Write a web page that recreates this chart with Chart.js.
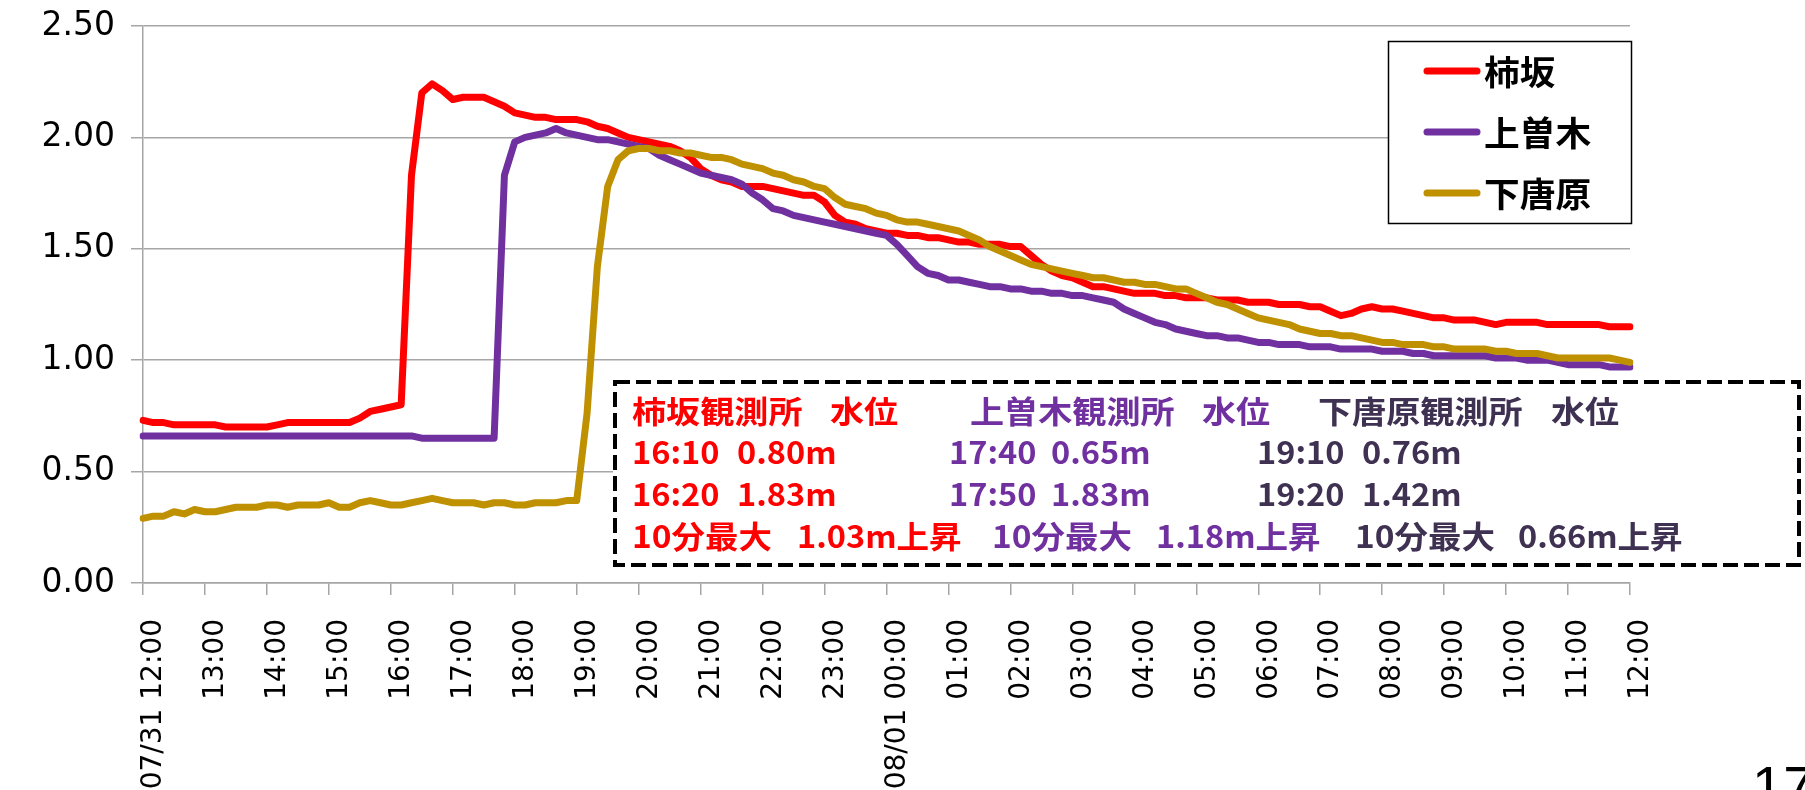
<!DOCTYPE html>
<html lang="ja">
<head>
<meta charset="utf-8">
<title>水位</title>
<script src="https://cdn.jsdelivr.net/npm/chart.js@4.4.1/dist/chart.umd.min.js"></script>
<style>
  html, body { margin: 0; padding: 0; background: #fff; }
  canvas { display: block; }
</style>
</head>
<body>
<canvas id="levelChart" width="1805" height="790"></canvas>
<script>
// water level every 10 min, 07/31 12:00 - 08/01 12:00 (m)
var kakisaka = [
  0.73, 0.72, 0.72, 0.71, 0.71, 0.71, 0.71, 0.71, 0.70, 0.70,
  0.70, 0.70, 0.70, 0.71, 0.72, 0.72, 0.72, 0.72, 0.72, 0.72,
  0.72, 0.74, 0.77, 0.78, 0.79, 0.80, 1.83, 2.20, 2.24, 2.21,
  2.17, 2.18, 2.18, 2.18, 2.16, 2.14, 2.11, 2.10, 2.09, 2.09,
  2.08, 2.08, 2.08, 2.07, 2.05, 2.04, 2.02, 2.00, 1.99, 1.98,
  1.97, 1.96, 1.94, 1.91, 1.86, 1.83, 1.81, 1.80, 1.78, 1.78,
  1.78, 1.77, 1.76, 1.75, 1.74, 1.74, 1.71, 1.65, 1.62, 1.61,
  1.59, 1.58, 1.57, 1.57, 1.56, 1.56, 1.55, 1.55, 1.54, 1.53,
  1.53, 1.52, 1.52, 1.52, 1.51, 1.51, 1.47, 1.43, 1.40, 1.38,
  1.37, 1.35, 1.33, 1.33, 1.32, 1.31, 1.30, 1.30, 1.30, 1.29,
  1.29, 1.28, 1.28, 1.28, 1.27, 1.27, 1.27, 1.26, 1.26, 1.26,
  1.25, 1.25, 1.25, 1.24, 1.24, 1.22, 1.20, 1.21, 1.23, 1.24,
  1.23, 1.23, 1.22, 1.21, 1.20, 1.19, 1.19, 1.18, 1.18, 1.18,
  1.17, 1.16, 1.17, 1.17, 1.17, 1.17, 1.16, 1.16, 1.16, 1.16,
  1.16, 1.16, 1.15, 1.15, 1.15
];
var kamisogi = [
  0.66, 0.66, 0.66, 0.66, 0.66, 0.66, 0.66, 0.66, 0.66, 0.66,
  0.66, 0.66, 0.66, 0.66, 0.66, 0.66, 0.66, 0.66, 0.66, 0.66,
  0.66, 0.66, 0.66, 0.66, 0.66, 0.66, 0.66, 0.65, 0.65, 0.65,
  0.65, 0.65, 0.65, 0.65, 0.65, 1.83, 1.98, 2.00, 2.01, 2.02,
  2.04, 2.02, 2.01, 2.00, 1.99, 1.99, 1.98, 1.97, 1.96, 1.95,
  1.92, 1.90, 1.88, 1.86, 1.84, 1.83, 1.82, 1.81, 1.79, 1.75,
  1.72, 1.68, 1.67, 1.65, 1.64, 1.63, 1.62, 1.61, 1.60, 1.59,
  1.58, 1.57, 1.56, 1.52, 1.47, 1.42, 1.39, 1.38, 1.36, 1.36,
  1.35, 1.34, 1.33, 1.33, 1.32, 1.32, 1.31, 1.31, 1.30, 1.30,
  1.29, 1.29, 1.28, 1.27, 1.26, 1.23, 1.21, 1.19, 1.17, 1.16,
  1.14, 1.13, 1.12, 1.11, 1.11, 1.10, 1.10, 1.09, 1.08, 1.08,
  1.07, 1.07, 1.07, 1.06, 1.06, 1.06, 1.05, 1.05, 1.05, 1.05,
  1.04, 1.04, 1.04, 1.03, 1.03, 1.02, 1.02, 1.02, 1.02, 1.02,
  1.02, 1.01, 1.01, 1.01, 1.00, 1.00, 1.00, 0.99, 0.98, 0.98,
  0.98, 0.98, 0.97, 0.97, 0.97
];
var shimotobaru = [
  0.29, 0.30, 0.30, 0.32, 0.31, 0.33, 0.32, 0.32, 0.33, 0.34,
  0.34, 0.34, 0.35, 0.35, 0.34, 0.35, 0.35, 0.35, 0.36, 0.34,
  0.34, 0.36, 0.37, 0.36, 0.35, 0.35, 0.36, 0.37, 0.38, 0.37,
  0.36, 0.36, 0.36, 0.35, 0.36, 0.36, 0.35, 0.35, 0.36, 0.36,
  0.36, 0.37, 0.37, 0.76, 1.42, 1.78, 1.90, 1.94, 1.95, 1.95,
  1.94, 1.94, 1.93, 1.93, 1.92, 1.91, 1.91, 1.90, 1.88, 1.87,
  1.86, 1.84, 1.83, 1.81, 1.80, 1.78, 1.77, 1.73, 1.70, 1.69,
  1.68, 1.66, 1.65, 1.63, 1.62, 1.62, 1.61, 1.60, 1.59, 1.58,
  1.56, 1.54, 1.51, 1.49, 1.47, 1.45, 1.43, 1.42, 1.41, 1.40,
  1.39, 1.38, 1.37, 1.37, 1.36, 1.35, 1.35, 1.34, 1.34, 1.33,
  1.32, 1.32, 1.30, 1.28, 1.26, 1.25, 1.23, 1.21, 1.19, 1.18,
  1.17, 1.16, 1.14, 1.13, 1.12, 1.12, 1.11, 1.11, 1.10, 1.09,
  1.08, 1.08, 1.07, 1.07, 1.07, 1.06, 1.06, 1.05, 1.05, 1.05,
  1.05, 1.04, 1.04, 1.03, 1.03, 1.03, 1.02, 1.01, 1.01, 1.01,
  1.01, 1.01, 1.01, 1.00, 0.99
];

var stationNames = ['柿坂', '上曽木', '下唐原'];
var lineColors = ['#FF0000', '#7030A0', '#BF9000'];
var hourLabels = [
  '07/31 12:00', '13:00', '14:00', '15:00', '16:00', '17:00', '18:00',
  '19:00', '20:00', '21:00', '22:00', '23:00', '08/01 00:00', '01:00',
  '02:00', '03:00', '04:00', '05:00', '06:00', '07:00', '08:00', '09:00',
  '10:00', '11:00', '12:00'
];
var yTicks = [0, 0.5, 1.0, 1.5, 2.0, 2.5];

// one category per 10 minutes, hour labels on every 6th
var times = [];
for (var i = 0; i < kakisaka.length; i++) {
  var h = (12 + Math.floor(i / 6)) % 24;
  var m = (i % 6) * 10;
  times.push(String(h).padStart(2, '0') + ':' + String(m).padStart(2, '0'));
}

// steepest 10-minute rise at each station (index of the reading before the jump)
var rises = [
  { title: '柿坂観測所', color: '#FF0000', series: kakisaka, at: 25, x: [632, 830, 737, 797] },
  { title: '上曽木観測所', color: '#7030A0', series: kamisogi, at: 34, x: [970, 1202, 1051, 1156], x0: 949, x4: 992 },
  { title: '下唐原観測所', color: '#3F3151', series: shimotobaru, at: 43, x: [1318, 1551, 1362, 1518], x0: 1257, x4: 1355 }
];

var gridGray = '#A6A6A6';

function stretchText(ctx, text, x, y, sx) {
  ctx.save();
  ctx.translate(x, y);
  ctx.scale(sx, 1);
  ctx.fillText(text, 0, 0);
  ctx.restore();
}

var overlay = {
  id: 'overlay',
  afterDraw: function (chart) {
    var ctx = chart.ctx;
    ctx.save();

    // legend box
    ctx.fillStyle = '#fff';
    ctx.fillRect(1388, 41, 244, 183);
    ctx.strokeStyle = '#000';
    ctx.lineWidth = 1.5;
    ctx.strokeRect(1388.5, 41.5, 243, 182);
    ctx.font = 'bold 34px "Noto Sans CJK JP"';
    ctx.textBaseline = 'middle';
    chart.data.datasets.forEach(function (ds, k) {
      var y = 71 + k * 61;
      ctx.strokeStyle = ds.borderColor;
      ctx.lineWidth = 7;
      ctx.lineCap = 'round';
      ctx.beginPath();
      ctx.moveTo(1427, y);
      ctx.lineTo(1477, y);
      ctx.stroke();
      ctx.fillStyle = '#000';
      stretchText(ctx, ds.label, 1484, y + 1, 1.05);
    });

    // dashed note box
    ctx.fillStyle = '#fff';
    ctx.fillRect(613, 380, 1188, 187);
    ctx.setLineDash([15, 6]);
    ctx.lineWidth = 4;
    ctx.lineCap = 'butt';
    ctx.strokeStyle = '#000';
    ctx.strokeRect(615, 382, 1184, 183);
    ctx.setLineDash([]);

    ctx.font = 'bold 31px "Noto Sans CJK JP"';
    rises.forEach(function (r) {
      var a = r.series[r.at], b = r.series[r.at + 1];
      var xt = r.x0 || r.x[0];
      var x4 = r.x4 || r.x[0];
      ctx.fillStyle = r.color;
      stretchText(ctx, r.title, r.x[0], 411, 1.1);
      stretchText(ctx, '水位', r.x[1], 411, 1.1);
      stretchText(ctx, times[r.at], xt, 452, 1.05);
      stretchText(ctx, a.toFixed(2) + 'm', r.x[2], 452, 1.05);
      stretchText(ctx, times[r.at + 1], xt, 494, 1.05);
      stretchText(ctx, b.toFixed(2) + 'm', r.x[2], 494, 1.05);
      stretchText(ctx, '10分最大', x4, 536, 1.08);
      stretchText(ctx, (b - a).toFixed(2) + 'm上昇', r.x[3], 536, 1.05);
    });

    // page number
    ctx.fillStyle = '#000';
    ctx.font = '56px "Liberation Sans"';
    ctx.textBaseline = 'alphabetic';
    ctx.fillText('17', 1752, 805);
    ctx.restore();
  }
};

var ctx = document.getElementById('levelChart').getContext('2d');
var levelChart = new Chart(ctx, {
  type: 'line',
  data: {
    labels: times,
    datasets: [{
      label: stationNames[0],
      data: kakisaka,
      borderColor: lineColors[0],
      order: 3
    }, {
      label: stationNames[1],
      data: kamisogi,
      borderColor: lineColors[1],
      order: 2
    }, {
      label: stationNames[2],
      data: shimotobaru,
      borderColor: lineColors[2],
      order: 1
    }]
  },
  options: {
    responsive: false,
    animation: false,
    layout: {
      padding: { top: 26, right: 175, left: 0, bottom: 0 }
    },
    elements: {
      line: { borderWidth: 7, tension: 0, borderJoinStyle: 'round', borderCapStyle: 'round', fill: false },
      point: { radius: 0, hoverRadius: 0 }
    },
    plugins: {
      legend: { display: false },
      tooltip: { enabled: false }
    },
    scales: {
      x: {
        grid: {
          drawOnChartArea: false,
          tickLength: 12,
          lineWidth: 1.5,
          color: function (c) { return c.index % 6 === 0 ? gridGray : 'rgba(0,0,0,0)'; }
        },
        border: { color: gridGray, width: 1.5 },
        ticks: {
          autoSkip: false,
          minRotation: 90,
          maxRotation: 90,
          padding: 24,
          labelOffset: 11,
          color: '#000',
          font: { family: 'DejaVu Sans', size: 28 },
          callback: function (v, i) { return i % 6 === 0 ? hourLabels[i / 6] : ''; }
        },
        afterFit: function (s) { s.height = 207; }
      },
      y: {
        min: 0,
        max: 2.5,
        afterBuildTicks: function (s) {
          s.ticks = yTicks.map(function (v) { return { value: v }; });
        },
        grid: { color: gridGray, lineWidth: 1.5, tickLength: 12 },
        border: { color: gridGray, width: 1.5 },
        ticks: {
          padding: 16,
          color: '#000',
          font: { family: 'DejaVu Sans', size: 33, lineHeight: 0.4 },
          callback: function (v) { return v.toFixed(2); }
        },
        afterFit: function (s) { s.width = 143; }
      }
    }
  },
  plugins: [overlay]
});
</script>
</body>
</html>
